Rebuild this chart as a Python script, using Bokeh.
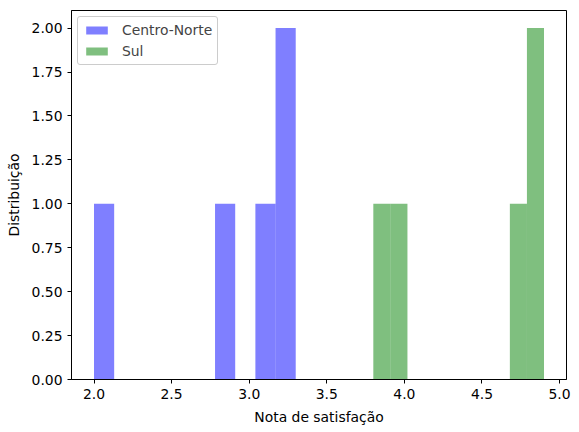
import numpy as np
from bokeh.plotting import figure
from bokeh.models import Range1d, FixedTicker, NumeralTickFormatter, Legend, LegendItem
from bokeh.embed import file_html
from bokeh.resources import INLINE

# Scores (10 bins each, as matplotlib's default)
centro_norte = [2.0, 2.8, 3.1, 3.2, 3.3]
sul = [3.8, 4.0, 4.7, 4.8, 4.9]
n_bins = 10

x_ticks = [2.0, 2.5, 3.0, 3.5, 4.0, 4.5, 5.0]
y_ticks = [0.0, 0.25, 0.5, 0.75, 1.0, 1.25, 1.5, 1.75, 2.0]

cn_counts, cn_edges = np.histogram(centro_norte, bins=n_bins)
sul_counts, sul_edges = np.histogram(sul, bins=n_bins)

FONT = "DejaVu Sans"
FS = "13.9px"

p = figure(width=571, height=427, output_backend="svg", toolbar_location=None,
           x_range=Range1d(1.855, 5.045), y_range=Range1d(0, 2.1),
           min_border_left=71, min_border_right=5, min_border_top=10, min_border_bottom=48)

r1 = p.quad(left=cn_edges[:-1], right=cn_edges[1:], bottom=0, top=cn_counts,
            fill_color="blue", fill_alpha=0.5, line_color=None)
r2 = p.quad(left=sul_edges[:-1], right=sul_edges[1:], bottom=0, top=sul_counts,
            fill_color="green", fill_alpha=0.5, line_color=None)

p.xgrid.visible = False
p.ygrid.visible = False
p.outline_line_color = "black"
p.outline_line_alpha = 1
p.outline_line_width = 1

for ax in (p.xaxis[0], p.yaxis[0]):
    ax.minor_tick_line_color = None
    ax.major_tick_out = 4
    ax.major_tick_in = 0
    ax.major_label_text_font = FONT
    ax.major_label_text_font_size = FS
    ax.major_label_text_color = "black"
    ax.axis_label_text_font = FONT
    ax.axis_label_text_font_size = FS
    ax.axis_label_text_font_style = "normal"
    ax.axis_label_text_color = "black"
    ax.axis_line_color = "black"
    ax.major_tick_line_color = "black"

p.xaxis.ticker = FixedTicker(ticks=x_ticks)
p.yaxis.ticker = FixedTicker(ticks=y_ticks)
p.xaxis.formatter = NumeralTickFormatter(format="0.0")
p.yaxis.formatter = NumeralTickFormatter(format="0.00")
p.xaxis.axis_label = "Nota de satisfação"
p.yaxis.axis_label = "Distribuição"
p.xaxis.axis_label_standoff = 7
p.yaxis.axis_label_standoff = 7

legend = Legend(items=[LegendItem(label="Centro-Norte", renderers=[r1]),
                       LegendItem(label="Sul", renderers=[r2])],
                location="top_left")
legend.label_text_font = FONT
legend.label_text_font_size = FS
legend.border_line_color = "#cccccc"
legend.border_line_alpha = 1
legend.border_radius = 3
legend.margin = 6
legend.padding = 5
legend.spacing = 5
legend.glyph_width = 27
legend.glyph_height = 10
legend.label_standoff = 12
legend.label_height = 16
p.add_layout(legend)

open("out.html", "w").write(file_html(p, INLINE))
